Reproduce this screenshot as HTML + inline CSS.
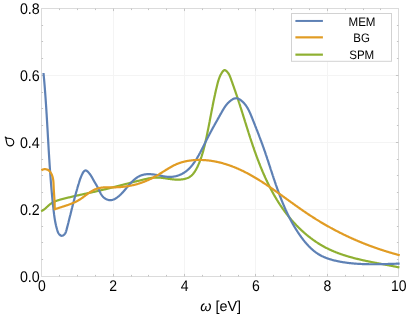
<!DOCTYPE html>
<html><head><meta charset="utf-8"><style>
html,body{margin:0;padding:0;background:#fff;}
svg{display:block;font-family:"Liberation Sans",sans-serif;}
svg{will-change:transform;}
</style></head><body>
<svg width="407" height="314" viewBox="0 0 407 314">
<rect width="407" height="314" fill="#fff"/>
<g stroke="#f4f4f4" stroke-width="1" fill="none"><line x1="113.50" y1="8.50" x2="113.50" y2="276.50"/><line x1="184.50" y1="8.50" x2="184.50" y2="276.50"/><line x1="255.50" y1="8.50" x2="255.50" y2="276.50"/><line x1="327.50" y1="8.50" x2="327.50" y2="276.50"/><line x1="41.50" y1="209.50" x2="398.50" y2="209.50"/><line x1="41.50" y1="142.50" x2="398.50" y2="142.50"/><line x1="41.50" y1="75.50" x2="398.50" y2="75.50"/></g>

<g stroke="#dbdbdb" stroke-width="1" fill="none">
<rect x="41.5" y="8.5" width="357.0" height="268.0"/>
</g>
<g stroke="#c4c4c4" stroke-width="1" fill="none"><line x1="59.50" y1="276.50" x2="59.50" y2="274.90"/><line x1="59.50" y1="8.50" x2="59.50" y2="10.10"/><line x1="77.50" y1="276.50" x2="77.50" y2="274.90"/><line x1="77.50" y1="8.50" x2="77.50" y2="10.10"/><line x1="95.50" y1="276.50" x2="95.50" y2="274.90"/><line x1="95.50" y1="8.50" x2="95.50" y2="10.10"/><line x1="113.50" y1="276.50" x2="113.50" y2="273.90"/><line x1="113.50" y1="8.50" x2="113.50" y2="11.10"/><line x1="131.50" y1="276.50" x2="131.50" y2="274.90"/><line x1="131.50" y1="8.50" x2="131.50" y2="10.10"/><line x1="148.50" y1="276.50" x2="148.50" y2="274.90"/><line x1="148.50" y1="8.50" x2="148.50" y2="10.10"/><line x1="166.50" y1="276.50" x2="166.50" y2="274.90"/><line x1="166.50" y1="8.50" x2="166.50" y2="10.10"/><line x1="184.50" y1="276.50" x2="184.50" y2="273.90"/><line x1="184.50" y1="8.50" x2="184.50" y2="11.10"/><line x1="202.50" y1="276.50" x2="202.50" y2="274.90"/><line x1="202.50" y1="8.50" x2="202.50" y2="10.10"/><line x1="220.50" y1="276.50" x2="220.50" y2="274.90"/><line x1="220.50" y1="8.50" x2="220.50" y2="10.10"/><line x1="238.50" y1="276.50" x2="238.50" y2="274.90"/><line x1="238.50" y1="8.50" x2="238.50" y2="10.10"/><line x1="255.50" y1="276.50" x2="255.50" y2="273.90"/><line x1="255.50" y1="8.50" x2="255.50" y2="11.10"/><line x1="273.50" y1="276.50" x2="273.50" y2="274.90"/><line x1="273.50" y1="8.50" x2="273.50" y2="10.10"/><line x1="291.50" y1="276.50" x2="291.50" y2="274.90"/><line x1="291.50" y1="8.50" x2="291.50" y2="10.10"/><line x1="309.50" y1="276.50" x2="309.50" y2="274.90"/><line x1="309.50" y1="8.50" x2="309.50" y2="10.10"/><line x1="327.50" y1="276.50" x2="327.50" y2="273.90"/><line x1="327.50" y1="8.50" x2="327.50" y2="11.10"/><line x1="345.50" y1="276.50" x2="345.50" y2="274.90"/><line x1="345.50" y1="8.50" x2="345.50" y2="10.10"/><line x1="363.50" y1="276.50" x2="363.50" y2="274.90"/><line x1="363.50" y1="8.50" x2="363.50" y2="10.10"/><line x1="380.50" y1="276.50" x2="380.50" y2="274.90"/><line x1="380.50" y1="8.50" x2="380.50" y2="10.10"/><line x1="41.50" y1="259.50" x2="43.10" y2="259.50"/><line x1="398.50" y1="259.50" x2="396.90" y2="259.50"/><line x1="41.50" y1="242.50" x2="43.10" y2="242.50"/><line x1="398.50" y1="242.50" x2="396.90" y2="242.50"/><line x1="41.50" y1="226.50" x2="43.10" y2="226.50"/><line x1="398.50" y1="226.50" x2="396.90" y2="226.50"/><line x1="41.50" y1="209.50" x2="44.10" y2="209.50"/><line x1="398.50" y1="209.50" x2="395.90" y2="209.50"/><line x1="41.50" y1="192.50" x2="43.10" y2="192.50"/><line x1="398.50" y1="192.50" x2="396.90" y2="192.50"/><line x1="41.50" y1="175.50" x2="43.10" y2="175.50"/><line x1="398.50" y1="175.50" x2="396.90" y2="175.50"/><line x1="41.50" y1="159.50" x2="43.10" y2="159.50"/><line x1="398.50" y1="159.50" x2="396.90" y2="159.50"/><line x1="41.50" y1="142.50" x2="44.10" y2="142.50"/><line x1="398.50" y1="142.50" x2="395.90" y2="142.50"/><line x1="41.50" y1="125.50" x2="43.10" y2="125.50"/><line x1="398.50" y1="125.50" x2="396.90" y2="125.50"/><line x1="41.50" y1="108.50" x2="43.10" y2="108.50"/><line x1="398.50" y1="108.50" x2="396.90" y2="108.50"/><line x1="41.50" y1="92.50" x2="43.10" y2="92.50"/><line x1="398.50" y1="92.50" x2="396.90" y2="92.50"/><line x1="41.50" y1="75.50" x2="44.10" y2="75.50"/><line x1="398.50" y1="75.50" x2="395.90" y2="75.50"/><line x1="41.50" y1="58.50" x2="43.10" y2="58.50"/><line x1="398.50" y1="58.50" x2="396.90" y2="58.50"/><line x1="41.50" y1="41.50" x2="43.10" y2="41.50"/><line x1="398.50" y1="41.50" x2="396.90" y2="41.50"/><line x1="41.50" y1="25.50" x2="43.10" y2="25.50"/><line x1="398.50" y1="25.50" x2="396.90" y2="25.50"/></g>
<g fill="none" stroke-width="2.2" stroke-linejoin="miter" stroke-linecap="butt">
<path stroke="#8fb032" d="M41.10,211.19 L41.56,211.00 L42.00,210.80 L42.44,210.57 L42.87,210.32 L43.29,210.06 L43.70,209.78 L44.10,209.48 L44.50,209.17 L44.89,208.85 L45.28,208.52 L45.66,208.18 L46.04,207.84 L46.42,207.49 L46.79,207.14 L47.17,206.79 L47.54,206.44 L47.92,206.09 L48.29,205.74 L48.68,205.40 L49.06,205.07 L49.45,204.74 L49.84,204.43 L50.24,204.12 L50.65,203.83 L51.06,203.55 L51.48,203.28 L51.90,203.02 L52.32,202.77 L52.75,202.53 L53.19,202.30 L53.63,202.08 L54.07,201.86 L54.52,201.66 L54.97,201.46 L55.43,201.27 L55.88,201.08 L56.34,200.90 L56.81,200.73 L57.28,200.56 L57.74,200.40 L58.22,200.25 L58.69,200.09 L59.17,199.95 L59.64,199.80 L60.12,199.66 L60.60,199.53 L61.09,199.39 L61.57,199.26 L62.05,199.13 L62.54,199.00 L63.02,198.88 L63.51,198.75 L63.99,198.63 L64.48,198.50 L64.96,198.38 L65.45,198.26 L65.93,198.14 L66.42,198.02 L66.90,197.90 L67.39,197.78 L67.88,197.66 L68.36,197.54 L68.85,197.43 L69.34,197.31 L69.82,197.20 L70.31,197.08 L70.80,196.97 L71.28,196.85 L71.77,196.74 L72.26,196.63 L72.75,196.51 L73.23,196.40 L73.72,196.29 L74.21,196.18 L74.70,196.07 L75.19,195.96 L75.67,195.85 L76.16,195.74 L76.65,195.63 L77.14,195.53 L77.63,195.42 L78.11,195.31 L78.60,195.20 L79.09,195.10 L79.58,194.99 L80.07,194.88 L80.56,194.78 L81.05,194.67 L81.53,194.56 L82.02,194.46 L82.51,194.35 L83.00,194.25 L83.49,194.14 L83.98,194.04 L84.47,193.93 L84.95,193.83 L85.44,193.72 L85.93,193.61 L86.42,193.51 L86.91,193.40 L87.40,193.30 L87.88,193.19 L88.37,193.09 L88.86,192.98 L89.35,192.88 L89.84,192.77 L90.33,192.66 L90.81,192.56 L91.30,192.45 L91.79,192.34 L92.28,192.24 L92.77,192.13 L93.25,192.02 L93.74,191.91 L94.23,191.81 L94.72,191.70 L95.20,191.59 L95.69,191.48 L96.18,191.37 L96.66,191.26 L97.15,191.15 L97.64,191.04 L98.12,190.93 L98.61,190.81 L99.10,190.70 L99.58,190.59 L100.07,190.47 L100.55,190.36 L101.04,190.25 L101.52,190.13 L102.01,190.02 L102.50,189.90 L102.98,189.78 L103.47,189.67 L103.95,189.55 L104.44,189.43 L104.92,189.32 L105.41,189.20 L105.89,189.08 L106.37,188.96 L106.86,188.84 L107.34,188.72 L107.83,188.60 L108.31,188.48 L108.80,188.36 L109.28,188.24 L109.76,188.12 L110.25,188.00 L110.73,187.88 L111.22,187.76 L111.70,187.63 L112.18,187.51 L112.67,187.39 L113.15,187.27 L113.63,187.14 L114.12,187.02 L114.60,186.90 L115.09,186.77 L115.57,186.65 L116.05,186.53 L116.54,186.40 L117.02,186.28 L117.50,186.15 L117.99,186.03 L118.47,185.91 L118.95,185.78 L119.44,185.66 L119.92,185.53 L120.40,185.41 L120.89,185.28 L121.37,185.16 L121.86,185.03 L122.34,184.91 L122.82,184.78 L123.31,184.66 L123.79,184.53 L124.27,184.41 L124.76,184.28 L125.24,184.16 L125.73,184.03 L126.21,183.91 L126.69,183.78 L127.18,183.66 L127.66,183.53 L128.15,183.41 L128.63,183.28 L129.12,183.16 L129.60,183.03 L130.08,182.91 L130.57,182.79 L131.05,182.66 L131.54,182.54 L132.02,182.41 L132.51,182.29 L132.99,182.17 L133.48,182.04 L133.97,181.92 L134.45,181.80 L134.94,181.67 L135.42,181.55 L135.91,181.43 L136.39,181.31 L136.88,181.19 L137.37,181.06 L137.85,180.94 L138.34,180.82 L138.83,180.70 L139.31,180.58 L139.80,180.46 L140.29,180.34 L140.78,180.22 L141.26,180.10 L141.75,179.98 L142.24,179.86 L142.73,179.75 L143.22,179.63 L143.70,179.51 L144.19,179.40 L144.68,179.28 L145.17,179.17 L145.66,179.06 L146.15,178.95 L146.64,178.84 L147.13,178.74 L147.62,178.64 L148.11,178.54 L148.60,178.44 L149.09,178.35 L149.58,178.26 L150.08,178.18 L150.57,178.10 L151.06,178.02 L151.55,177.95 L152.05,177.88 L152.54,177.82 L153.04,177.76 L153.53,177.71 L154.03,177.67 L154.52,177.63 L155.02,177.59 L155.51,177.57 L156.01,177.55 L156.51,177.53 L157.01,177.53 L157.51,177.53 L158.00,177.54 L158.50,177.55 L159.00,177.58 L159.50,177.61 L160.00,177.65 L160.51,177.69 L161.01,177.74 L161.51,177.79 L162.01,177.85 L162.51,177.91 L163.01,177.98 L163.50,178.04 L164.00,178.12 L164.50,178.19 L165.00,178.26 L165.49,178.34 L165.99,178.42 L166.48,178.49 L166.97,178.57 L167.46,178.65 L167.95,178.72 L168.44,178.80 L168.93,178.87 L169.42,178.94 L169.91,179.01 L170.39,179.08 L170.88,179.14 L171.37,179.20 L171.86,179.26 L172.35,179.32 L172.84,179.37 L173.33,179.42 L173.82,179.46 L174.32,179.50 L174.81,179.54 L175.31,179.57 L175.81,179.59 L176.31,179.61 L176.82,179.63 L177.32,179.64 L177.83,179.64 L178.35,179.63 L178.86,179.62 L179.38,179.61 L179.89,179.58 L180.41,179.55 L180.92,179.51 L181.44,179.46 L181.95,179.40 L182.46,179.33 L182.97,179.25 L183.47,179.17 L183.97,179.07 L184.47,178.96 L184.96,178.84 L185.45,178.72 L185.93,178.57 L186.41,178.42 L186.87,178.26 L187.34,178.08 L187.79,177.89 L188.23,177.69 L188.67,177.47 L189.10,177.24 L189.52,176.99 L189.92,176.73 L190.32,176.46 L190.70,176.17 L191.08,175.87 L191.45,175.56 L191.80,175.23 L192.15,174.89 L192.49,174.54 L192.82,174.18 L193.14,173.81 L193.45,173.43 L193.76,173.04 L194.06,172.65 L194.35,172.24 L194.63,171.83 L194.91,171.41 L195.18,170.98 L195.44,170.55 L195.70,170.11 L195.95,169.67 L196.20,169.22 L196.44,168.77 L196.68,168.32 L196.91,167.86 L197.14,167.40 L197.36,166.94 L197.59,166.48 L197.80,166.01 L198.02,165.55 L198.23,165.08 L198.43,164.62 L198.64,164.16 L198.84,163.69 L199.03,163.22 L199.23,162.76 L199.42,162.29 L199.61,161.82 L199.79,161.35 L199.98,160.88 L200.16,160.41 L200.33,159.94 L200.51,159.47 L200.68,159.00 L200.85,158.53 L201.01,158.06 L201.17,157.59 L201.34,157.11 L201.49,156.64 L201.65,156.17 L201.80,155.69 L201.96,155.22 L202.11,154.74 L202.25,154.27 L202.40,153.79 L202.54,153.31 L202.68,152.84 L202.82,152.36 L202.96,151.88 L203.09,151.40 L203.23,150.92 L203.36,150.45 L203.49,149.97 L203.62,149.49 L203.75,149.01 L203.87,148.53 L203.99,148.05 L204.12,147.56 L204.24,147.08 L204.36,146.60 L204.48,146.12 L204.59,145.64 L204.71,145.15 L204.82,144.67 L204.94,144.19 L205.05,143.70 L205.16,143.22 L205.27,142.74 L205.38,142.25 L205.49,141.77 L205.60,141.28 L205.71,140.80 L205.82,140.31 L205.92,139.83 L206.03,139.34 L206.14,138.85 L206.24,138.37 L206.35,137.88 L206.45,137.39 L206.55,136.91 L206.66,136.42 L206.76,135.93 L206.86,135.44 L206.96,134.96 L207.06,134.47 L207.16,133.98 L207.27,133.49 L207.37,133.00 L207.47,132.51 L207.56,132.03 L207.66,131.54 L207.76,131.05 L207.86,130.56 L207.96,130.07 L208.06,129.58 L208.15,129.09 L208.25,128.60 L208.35,128.11 L208.44,127.62 L208.54,127.13 L208.64,126.64 L208.73,126.15 L208.83,125.66 L208.92,125.17 L209.02,124.67 L209.11,124.18 L209.21,123.69 L209.30,123.20 L209.40,122.71 L209.49,122.22 L209.58,121.73 L209.68,121.24 L209.77,120.74 L209.87,120.25 L209.96,119.76 L210.05,119.27 L210.15,118.78 L210.24,118.29 L210.34,117.79 L210.43,117.30 L210.52,116.81 L210.62,116.32 L210.71,115.83 L210.80,115.34 L210.90,114.84 L210.99,114.35 L211.09,113.86 L211.18,113.37 L211.27,112.88 L211.37,112.38 L211.46,111.89 L211.56,111.40 L211.65,110.91 L211.75,110.42 L211.84,109.93 L211.94,109.43 L212.03,108.94 L212.13,108.45 L212.22,107.96 L212.32,107.47 L212.42,106.98 L212.51,106.48 L212.61,105.99 L212.71,105.50 L212.80,105.01 L212.90,104.52 L213.00,104.03 L213.10,103.54 L213.20,103.05 L213.29,102.56 L213.39,102.07 L213.49,101.58 L213.59,101.09 L213.69,100.60 L213.80,100.11 L213.90,99.62 L214.00,99.13 L214.10,98.64 L214.20,98.15 L214.31,97.66 L214.41,97.17 L214.51,96.68 L214.62,96.19 L214.72,95.70 L214.83,95.21 L214.94,94.73 L215.04,94.24 L215.15,93.75 L215.26,93.26 L215.37,92.77 L215.48,92.29 L215.59,91.80 L215.70,91.31 L215.81,90.83 L215.92,90.34 L216.03,89.85 L216.15,89.37 L216.26,88.88 L216.37,88.40 L216.49,87.91 L216.60,87.43 L216.72,86.94 L216.84,86.46 L216.96,85.97 L217.08,85.49 L217.20,85.01 L217.32,84.52 L217.44,84.04 L217.56,83.56 L217.69,83.07 L217.81,82.59 L217.94,82.11 L218.08,81.63 L218.22,81.15 L218.36,80.68 L218.50,80.20 L218.65,79.72 L218.81,79.25 L218.97,78.78 L219.14,78.30 L219.32,77.84 L219.50,77.37 L219.69,76.90 L219.89,76.44 L220.09,75.98 L220.31,75.52 L220.53,75.06 L220.77,74.60 L221.01,74.15 L221.26,73.70 L221.53,73.25 L221.81,72.81 L222.10,72.36 L222.40,71.93 L222.71,71.51 L223.04,71.12 L223.38,70.78 L223.73,70.50 L224.10,70.30 L224.48,70.19 L224.87,70.19 L225.27,70.29 L225.69,70.49 L226.10,70.77 L226.50,71.11 L226.90,71.49 L227.28,71.91 L227.64,72.34 L227.97,72.78 L228.28,73.22 L228.57,73.67 L228.84,74.11 L229.09,74.56 L229.33,75.02 L229.55,75.47 L229.76,75.93 L229.95,76.39 L230.14,76.85 L230.32,77.31 L230.49,77.77 L230.66,78.24 L230.83,78.70 L231.00,79.17 L231.16,79.63 L231.33,80.10 L231.50,80.57 L231.66,81.03 L231.83,81.50 L232.00,81.97 L232.16,82.44 L232.33,82.91 L232.50,83.38 L232.67,83.85 L232.83,84.32 L233.00,84.79 L233.17,85.26 L233.33,85.73 L233.50,86.20 L233.67,86.67 L233.84,87.15 L234.00,87.62 L234.17,88.09 L234.33,88.56 L234.50,89.04 L234.67,89.51 L234.83,89.98 L235.00,90.46 L235.16,90.93 L235.32,91.40 L235.49,91.88 L235.65,92.35 L235.82,92.83 L235.98,93.30 L236.14,93.78 L236.30,94.25 L236.46,94.72 L236.62,95.20 L236.78,95.67 L236.94,96.15 L237.10,96.62 L237.26,97.10 L237.42,97.57 L237.58,98.04 L237.74,98.52 L237.89,98.99 L238.05,99.47 L238.21,99.94 L238.36,100.42 L238.52,100.89 L238.67,101.37 L238.83,101.84 L238.98,102.32 L239.14,102.79 L239.29,103.27 L239.45,103.74 L239.60,104.22 L239.75,104.69 L239.91,105.17 L240.06,105.64 L240.21,106.12 L240.36,106.59 L240.51,107.07 L240.67,107.54 L240.82,108.02 L240.97,108.49 L241.12,108.97 L241.27,109.44 L241.42,109.92 L241.57,110.39 L241.72,110.87 L241.87,111.34 L242.02,111.82 L242.17,112.29 L242.32,112.77 L242.47,113.24 L242.62,113.72 L242.77,114.19 L242.92,114.67 L243.06,115.14 L243.21,115.62 L243.36,116.10 L243.51,116.57 L243.66,117.05 L243.81,117.52 L243.96,118.00 L244.10,118.47 L244.25,118.95 L244.40,119.42 L244.55,119.90 L244.70,120.37 L244.85,120.85 L244.99,121.33 L245.14,121.80 L245.29,122.28 L245.44,122.75 L245.59,123.23 L245.74,123.70 L245.89,124.18 L246.04,124.65 L246.18,125.13 L246.33,125.61 L246.48,126.08 L246.63,126.56 L246.78,127.03 L246.93,127.51 L247.08,127.98 L247.23,128.46 L247.38,128.94 L247.53,129.41 L247.68,129.89 L247.83,130.36 L247.98,130.84 L248.13,131.31 L248.28,131.79 L248.43,132.27 L248.59,132.74 L248.74,133.22 L248.89,133.69 L249.04,134.17 L249.20,134.64 L249.35,135.12 L249.50,135.60 L249.65,136.07 L249.81,136.55 L249.96,137.02 L250.12,137.50 L250.27,137.98 L250.43,138.45 L250.58,138.93 L250.74,139.40 L250.90,139.88 L251.05,140.35 L251.21,140.83 L251.37,141.31 L251.52,141.78 L251.68,142.26 L251.84,142.73 L252.00,143.21 L252.16,143.68 L252.32,144.16 L252.48,144.63 L252.64,145.11 L252.80,145.59 L252.96,146.06 L253.13,146.54 L253.29,147.01 L253.45,147.49 L253.62,147.96 L253.78,148.44 L253.94,148.91 L254.11,149.38 L254.27,149.86 L254.44,150.33 L254.61,150.81 L254.77,151.28 L254.94,151.76 L255.11,152.23 L255.28,152.70 L255.45,153.18 L255.62,153.65 L255.79,154.12 L255.96,154.59 L256.13,155.07 L256.30,155.54 L256.48,156.01 L256.65,156.48 L256.82,156.96 L257.00,157.43 L257.17,157.90 L257.35,158.37 L257.53,158.84 L257.70,159.31 L257.88,159.78 L258.06,160.25 L258.24,160.72 L258.42,161.19 L258.60,161.66 L258.78,162.13 L258.96,162.60 L259.14,163.07 L259.32,163.54 L259.51,164.00 L259.69,164.47 L259.88,164.94 L260.06,165.41 L260.25,165.87 L260.44,166.34 L260.63,166.80 L260.81,167.27 L261.00,167.74 L261.19,168.20 L261.38,168.66 L261.58,169.13 L261.77,169.59 L261.96,170.06 L262.16,170.52 L262.35,170.98 L262.55,171.44 L262.74,171.91 L262.94,172.37 L263.14,172.83 L263.34,173.29 L263.54,173.75 L263.74,174.21 L263.94,174.67 L264.14,175.13 L264.34,175.59 L264.55,176.04 L264.75,176.50 L264.96,176.96 L265.16,177.42 L265.37,177.87 L265.58,178.33 L265.79,178.78 L266.00,179.24 L266.21,179.69 L266.42,180.14 L266.63,180.60 L266.85,181.05 L267.06,181.50 L267.28,181.95 L267.49,182.40 L267.71,182.85 L267.93,183.30 L268.15,183.75 L268.37,184.20 L268.59,184.65 L268.81,185.10 L269.04,185.55 L269.26,185.99 L269.48,186.44 L269.71,186.88 L269.94,187.33 L270.17,187.77 L270.40,188.21 L270.63,188.66 L270.86,189.10 L271.09,189.54 L271.32,189.98 L271.56,190.42 L271.79,190.86 L272.03,191.30 L272.27,191.74 L272.51,192.18 L272.75,192.61 L272.99,193.05 L273.23,193.49 L273.47,193.92 L273.72,194.35 L273.96,194.79 L274.21,195.22 L274.45,195.65 L274.70,196.08 L274.95,196.51 L275.20,196.94 L275.46,197.37 L275.71,197.80 L275.96,198.23 L276.22,198.66 L276.48,199.08 L276.73,199.51 L276.99,199.93 L277.25,200.36 L277.52,200.78 L277.78,201.20 L278.04,201.62 L278.31,202.04 L278.57,202.46 L278.84,202.88 L279.11,203.30 L279.38,203.72 L279.65,204.13 L279.92,204.55 L280.20,204.96 L280.47,205.38 L280.75,205.79 L281.03,206.20 L281.31,206.61 L281.59,207.02 L281.87,207.43 L282.15,207.84 L282.44,208.25 L282.72,208.66 L283.01,209.06 L283.30,209.47 L283.59,209.87 L283.88,210.27 L284.17,210.68 L284.46,211.08 L284.76,211.48 L285.05,211.88 L285.35,212.28 L285.65,212.67 L285.95,213.07 L286.25,213.46 L286.56,213.86 L286.86,214.25 L287.17,214.65 L287.47,215.04 L287.78,215.43 L288.09,215.82 L288.40,216.21 L288.72,216.59 L289.03,216.98 L289.35,217.36 L289.67,217.75 L289.98,218.13 L290.30,218.51 L290.62,218.89 L290.95,219.27 L291.27,219.65 L291.60,220.03 L291.92,220.41 L292.25,220.78 L292.58,221.16 L292.91,221.53 L293.25,221.90 L293.58,222.27 L293.91,222.64 L294.25,223.01 L294.59,223.37 L294.93,223.74 L295.27,224.10 L295.61,224.47 L295.95,224.83 L296.30,225.19 L296.64,225.55 L296.99,225.90 L297.34,226.26 L297.69,226.61 L298.04,226.97 L298.39,227.32 L298.75,227.67 L299.10,228.02 L299.46,228.37 L299.82,228.71 L300.18,229.06 L300.54,229.40 L300.90,229.74 L301.26,230.09 L301.63,230.42 L301.99,230.76 L302.36,231.10 L302.73,231.43 L303.10,231.77 L303.47,232.10 L303.84,232.43 L304.21,232.76 L304.59,233.08 L304.97,233.41 L305.34,233.73 L305.72,234.06 L306.10,234.38 L306.48,234.70 L306.87,235.01 L307.25,235.33 L307.64,235.64 L308.02,235.96 L308.41,236.27 L308.80,236.58 L309.19,236.88 L309.58,237.19 L309.97,237.49 L310.37,237.80 L310.76,238.10 L311.16,238.39 L311.56,238.69 L311.96,238.99 L312.36,239.28 L312.76,239.57 L313.16,239.86 L313.57,240.15 L313.97,240.44 L314.38,240.72 L314.79,241.00 L315.20,241.28 L315.61,241.56 L316.02,241.84 L316.43,242.12 L316.85,242.39 L317.26,242.66 L317.68,242.93 L318.10,243.20 L318.52,243.46 L318.94,243.73 L319.36,243.99 L319.78,244.25 L320.21,244.50 L320.63,244.76 L321.06,245.01 L321.49,245.27 L321.92,245.51 L322.35,245.76 L322.78,246.01 L323.21,246.25 L323.65,246.49 L324.08,246.73 L324.52,246.97 L324.96,247.20 L325.39,247.44 L325.83,247.67 L326.28,247.90 L326.72,248.12 L327.16,248.35 L327.61,248.57 L328.05,248.79 L328.50,249.01 L328.95,249.22 L329.40,249.44 L329.85,249.65 L330.30,249.86 L330.75,250.06 L331.21,250.27 L331.66,250.47 L332.12,250.67 L332.57,250.87 L333.03,251.07 L333.49,251.26 L333.95,251.46 L334.41,251.65 L334.87,251.84 L335.34,252.03 L335.80,252.21 L336.27,252.40 L336.73,252.58 L337.20,252.76 L337.67,252.94 L338.14,253.11 L338.60,253.29 L339.08,253.46 L339.55,253.63 L340.02,253.80 L340.49,253.97 L340.96,254.14 L341.44,254.30 L341.91,254.46 L342.39,254.63 L342.87,254.79 L343.34,254.94 L343.82,255.10 L344.30,255.26 L344.78,255.41 L345.26,255.56 L345.74,255.71 L346.22,255.86 L346.70,256.01 L347.18,256.16 L347.67,256.30 L348.15,256.45 L348.64,256.59 L349.12,256.73 L349.61,256.87 L350.09,257.01 L350.58,257.15 L351.06,257.28 L351.55,257.42 L352.04,257.55 L352.53,257.68 L353.02,257.81 L353.51,257.94 L354.00,258.07 L354.49,258.20 L354.98,258.32 L355.47,258.45 L355.96,258.57 L356.45,258.70 L356.94,258.82 L357.43,258.94 L357.93,259.06 L358.42,259.18 L358.91,259.30 L359.40,259.41 L359.90,259.53 L360.39,259.64 L360.89,259.76 L361.38,259.87 L361.87,259.98 L362.37,260.09 L362.86,260.21 L363.36,260.32 L363.85,260.42 L364.35,260.53 L364.84,260.64 L365.34,260.75 L365.83,260.85 L366.33,260.96 L366.82,261.06 L367.32,261.17 L367.81,261.27 L368.31,261.37 L368.81,261.48 L369.30,261.58 L369.80,261.68 L370.29,261.78 L370.79,261.88 L371.28,261.98 L371.78,262.08 L372.27,262.18 L372.77,262.27 L373.26,262.37 L373.76,262.47 L374.25,262.56 L374.75,262.66 L375.24,262.76 L375.73,262.85 L376.23,262.95 L376.72,263.04 L377.21,263.14 L377.71,263.23 L378.20,263.33 L378.69,263.42 L379.18,263.51 L379.68,263.61 L380.17,263.70 L380.66,263.79 L381.15,263.89 L381.64,263.98 L382.13,264.07 L382.62,264.16 L383.11,264.26 L383.60,264.35 L384.09,264.44 L384.57,264.53 L385.06,264.62 L385.55,264.72 L386.03,264.81 L386.52,264.90 L387.01,264.99 L387.49,265.09 L387.97,265.18 L388.46,265.27 L388.94,265.36 L389.42,265.46 L389.91,265.55 L390.39,265.64 L390.87,265.74 L391.35,265.83 L391.83,265.93 L392.31,266.02 L392.78,266.11 L393.26,266.21 L393.74,266.31 L394.21,266.40 L394.69,266.50 L395.16,266.59 L395.64,266.69 L396.11,266.79 L396.58,266.89 L397.05,266.98 L397.52,267.08 L397.99,267.18 L398.46,267.28 L398.93,267.38 L399.40,267.48"/>
<path stroke="#5e81b5" d="M43.50,73.01 L43.55,73.51 L43.59,74.00 L43.64,74.50 L43.69,75.00 L43.73,75.49 L43.78,75.99 L43.82,76.48 L43.87,76.98 L43.91,77.47 L43.96,77.97 L44.00,78.47 L44.05,78.96 L44.09,79.46 L44.14,79.95 L44.18,80.45 L44.22,80.95 L44.26,81.44 L44.31,81.94 L44.35,82.44 L44.39,82.93 L44.43,83.43 L44.47,83.93 L44.52,84.42 L44.56,84.92 L44.60,85.42 L44.64,85.91 L44.68,86.41 L44.72,86.91 L44.76,87.40 L44.80,87.90 L44.84,88.40 L44.88,88.90 L44.91,89.39 L44.95,89.89 L44.99,90.39 L45.03,90.89 L45.07,91.38 L45.11,91.88 L45.14,92.38 L45.18,92.88 L45.22,93.37 L45.25,93.87 L45.29,94.37 L45.33,94.87 L45.36,95.37 L45.40,95.86 L45.44,96.36 L45.47,96.86 L45.51,97.36 L45.54,97.86 L45.58,98.35 L45.61,98.85 L45.65,99.35 L45.68,99.85 L45.72,100.35 L45.75,100.85 L45.79,101.35 L45.82,101.84 L45.85,102.34 L45.89,102.84 L45.92,103.34 L45.96,103.84 L45.99,104.34 L46.02,104.84 L46.05,105.34 L46.09,105.83 L46.12,106.33 L46.15,106.83 L46.19,107.33 L46.22,107.83 L46.25,108.33 L46.28,108.83 L46.31,109.33 L46.35,109.83 L46.38,110.33 L46.41,110.83 L46.44,111.33 L46.47,111.82 L46.50,112.32 L46.53,112.82 L46.56,113.32 L46.60,113.82 L46.63,114.32 L46.66,114.82 L46.69,115.32 L46.72,115.82 L46.75,116.32 L46.78,116.82 L46.81,117.32 L46.84,117.82 L46.87,118.32 L46.90,118.82 L46.93,119.32 L46.96,119.82 L46.99,120.32 L47.02,120.82 L47.05,121.32 L47.08,121.82 L47.11,122.32 L47.14,122.82 L47.17,123.32 L47.20,123.82 L47.22,124.32 L47.25,124.82 L47.28,125.32 L47.31,125.82 L47.34,126.32 L47.37,126.82 L47.40,127.32 L47.43,127.82 L47.46,128.32 L47.49,128.82 L47.52,129.32 L47.54,129.82 L47.57,130.32 L47.60,130.82 L47.63,131.32 L47.66,131.82 L47.69,132.32 L47.72,132.82 L47.75,133.32 L47.77,133.82 L47.80,134.32 L47.83,134.82 L47.86,135.32 L47.89,135.82 L47.92,136.32 L47.95,136.82 L47.97,137.32 L48.00,137.82 L48.03,138.32 L48.06,138.82 L48.09,139.32 L48.12,139.82 L48.15,140.32 L48.18,140.82 L48.21,141.32 L48.23,141.82 L48.26,142.32 L48.29,142.82 L48.32,143.32 L48.35,143.82 L48.38,144.32 L48.41,144.82 L48.44,145.32 L48.47,145.82 L48.50,146.32 L48.53,146.81 L48.56,147.31 L48.58,147.81 L48.61,148.31 L48.64,148.81 L48.67,149.31 L48.70,149.81 L48.73,150.31 L48.76,150.81 L48.79,151.31 L48.82,151.81 L48.85,152.31 L48.88,152.81 L48.91,153.31 L48.94,153.81 L48.98,154.31 L49.01,154.81 L49.04,155.31 L49.07,155.81 L49.10,156.31 L49.13,156.81 L49.16,157.31 L49.19,157.81 L49.22,158.31 L49.25,158.81 L49.29,159.31 L49.32,159.80 L49.35,160.30 L49.38,160.80 L49.41,161.30 L49.45,161.80 L49.48,162.30 L49.51,162.80 L49.54,163.30 L49.58,163.80 L49.61,164.30 L49.64,164.80 L49.67,165.29 L49.71,165.79 L49.74,166.29 L49.78,166.79 L49.81,167.29 L49.84,167.79 L49.88,168.29 L49.91,168.79 L49.95,169.28 L49.98,169.78 L50.01,170.28 L50.05,170.78 L50.08,171.28 L50.12,171.78 L50.16,172.27 L50.19,172.77 L50.23,173.27 L50.26,173.77 L50.30,174.27 L50.34,174.77 L50.37,175.26 L50.41,175.76 L50.45,176.26 L50.48,176.76 L50.52,177.25 L50.56,177.75 L50.60,178.25 L50.63,178.75 L50.67,179.25 L50.71,179.74 L50.75,180.24 L50.79,180.74 L50.83,181.24 L50.87,181.73 L50.91,182.23 L50.95,182.73 L50.99,183.22 L51.03,183.72 L51.07,184.22 L51.11,184.72 L51.15,185.21 L51.19,185.71 L51.23,186.21 L51.27,186.70 L51.31,187.20 L51.36,187.70 L51.40,188.19 L51.44,188.69 L51.49,189.18 L51.53,189.68 L51.57,190.18 L51.62,190.67 L51.66,191.17 L51.70,191.67 L51.75,192.16 L51.79,192.66 L51.84,193.15 L51.88,193.65 L51.93,194.14 L51.98,194.64 L52.02,195.14 L52.07,195.63 L52.12,196.13 L52.16,196.62 L52.21,197.12 L52.26,197.61 L52.31,198.11 L52.36,198.60 L52.40,199.10 L52.45,199.59 L52.50,200.09 L52.55,200.58 L52.60,201.08 L52.65,201.57 L52.70,202.06 L52.75,202.56 L52.81,203.05 L52.86,203.55 L52.91,204.04 L52.96,204.53 L53.02,205.03 L53.07,205.52 L53.12,206.02 L53.18,206.51 L53.23,207.00 L53.28,207.50 L53.34,207.99 L53.39,208.48 L53.45,208.98 L53.50,209.47 L53.56,209.96 L53.62,210.45 L53.67,210.95 L53.73,211.44 L53.79,211.93 L53.85,212.43 L53.91,212.92 L53.97,213.41 L54.03,213.90 L54.09,214.40 L54.16,214.89 L54.22,215.38 L54.29,215.87 L54.35,216.37 L54.42,216.86 L54.49,217.35 L54.57,217.85 L54.64,218.34 L54.72,218.83 L54.80,219.33 L54.88,219.82 L54.96,220.31 L55.05,220.81 L55.14,221.30 L55.23,221.80 L55.32,222.29 L55.42,222.79 L55.52,223.29 L55.62,223.78 L55.73,224.28 L55.84,224.78 L55.95,225.28 L56.07,225.77 L56.19,226.27 L56.31,226.77 L56.44,227.27 L56.57,227.77 L56.71,228.27 L56.85,228.77 L56.99,229.28 L57.14,229.78 L57.30,230.28 L57.46,230.78 L57.63,231.26 L57.82,231.75 L58.01,232.21 L58.23,232.67 L58.46,233.11 L58.70,233.53 L58.97,233.93 L59.26,234.30 L59.58,234.65 L59.92,234.97 L60.29,235.26 L60.68,235.51 L61.11,235.69 L61.55,235.78 L62.02,235.77 L62.50,235.66 L62.97,235.47 L63.41,235.23 L63.81,234.96 L64.18,234.65 L64.51,234.32 L64.81,233.95 L65.08,233.57 L65.32,233.16 L65.54,232.73 L65.74,232.28 L65.92,231.82 L66.08,231.35 L66.23,230.86 L66.37,230.37 L66.51,229.88 L66.64,229.38 L66.77,228.88 L66.90,228.39 L67.03,227.89 L67.16,227.39 L67.29,226.90 L67.42,226.40 L67.54,225.91 L67.67,225.41 L67.80,224.92 L67.92,224.43 L68.05,223.93 L68.17,223.44 L68.30,222.95 L68.42,222.45 L68.55,221.96 L68.67,221.47 L68.80,220.98 L68.92,220.49 L69.04,220.00 L69.17,219.51 L69.29,219.02 L69.41,218.53 L69.53,218.04 L69.66,217.55 L69.78,217.06 L69.90,216.58 L70.02,216.09 L70.14,215.60 L70.27,215.12 L70.39,214.63 L70.51,214.14 L70.63,213.66 L70.75,213.17 L70.87,212.69 L70.99,212.20 L71.11,211.72 L71.24,211.23 L71.36,210.75 L71.48,210.26 L71.60,209.78 L71.72,209.30 L71.84,208.81 L71.96,208.33 L72.09,207.85 L72.21,207.36 L72.33,206.88 L72.45,206.40 L72.57,205.92 L72.69,205.44 L72.82,204.96 L72.94,204.48 L73.06,204.00 L73.19,203.51 L73.31,203.03 L73.43,202.55 L73.56,202.07 L73.68,201.60 L73.80,201.12 L73.93,200.64 L74.05,200.16 L74.18,199.68 L74.30,199.20 L74.43,198.72 L74.56,198.24 L74.68,197.77 L74.81,197.29 L74.94,196.81 L75.07,196.33 L75.20,195.85 L75.32,195.38 L75.45,194.90 L75.58,194.42 L75.71,193.95 L75.84,193.47 L75.98,192.99 L76.11,192.52 L76.24,192.04 L76.37,191.56 L76.51,191.09 L76.64,190.61 L76.78,190.14 L76.91,189.66 L77.05,189.18 L77.19,188.71 L77.32,188.23 L77.46,187.76 L77.60,187.28 L77.74,186.81 L77.88,186.33 L78.02,185.86 L78.17,185.38 L78.31,184.91 L78.45,184.43 L78.60,183.96 L78.74,183.48 L78.89,183.01 L79.03,182.53 L79.18,182.06 L79.33,181.58 L79.48,181.11 L79.64,180.63 L79.79,180.16 L79.95,179.68 L80.12,179.20 L80.28,178.73 L80.46,178.25 L80.64,177.77 L80.82,177.29 L81.02,176.80 L81.22,176.32 L81.43,175.84 L81.64,175.35 L81.87,174.86 L82.11,174.37 L82.35,173.88 L82.61,173.38 L82.88,172.89 L83.15,172.42 L83.45,171.98 L83.75,171.57 L84.07,171.21 L84.40,170.90 L84.74,170.67 L85.10,170.52 L85.47,170.46 L85.86,170.49 L86.26,170.62 L86.66,170.82 L87.07,171.08 L87.48,171.41 L87.89,171.78 L88.30,172.20 L88.69,172.64 L89.08,173.09 L89.45,173.56 L89.80,174.02 L90.14,174.48 L90.45,174.93 L90.76,175.37 L91.04,175.81 L91.32,176.25 L91.58,176.68 L91.83,177.10 L92.08,177.53 L92.32,177.95 L92.55,178.37 L92.78,178.78 L93.01,179.20 L93.23,179.61 L93.46,180.03 L93.69,180.44 L93.92,180.86 L94.15,181.28 L94.39,181.70 L94.64,182.12 L94.89,182.54 L95.14,182.96 L95.39,183.39 L95.64,183.82 L95.90,184.25 L96.16,184.68 L96.41,185.12 L96.66,185.55 L96.91,185.99 L97.16,186.44 L97.41,186.88 L97.65,187.33 L97.89,187.78 L98.12,188.23 L98.34,188.69 L98.57,189.15 L98.79,189.61 L99.00,190.07 L99.22,190.53 L99.44,190.99 L99.65,191.45 L99.88,191.90 L100.10,192.35 L100.33,192.80 L100.57,193.24 L100.81,193.68 L101.06,194.11 L101.32,194.53 L101.59,194.95 L101.88,195.36 L102.17,195.75 L102.48,196.14 L102.80,196.52 L103.15,196.88 L103.50,197.23 L103.88,197.57 L104.27,197.90 L104.69,198.20 L105.12,198.50 L105.56,198.77 L106.02,199.02 L106.49,199.26 L106.97,199.47 L107.45,199.65 L107.94,199.81 L108.44,199.95 L108.94,200.05 L109.44,200.12 L109.95,200.17 L110.45,200.18 L110.94,200.15 L111.44,200.10 L111.93,200.01 L112.41,199.89 L112.89,199.75 L113.36,199.58 L113.83,199.39 L114.30,199.18 L114.75,198.95 L115.20,198.70 L115.65,198.44 L116.09,198.16 L116.51,197.88 L116.94,197.59 L117.35,197.29 L117.76,196.98 L118.16,196.67 L118.55,196.36 L118.93,196.04 L119.31,195.72 L119.68,195.39 L120.05,195.06 L120.41,194.72 L120.77,194.38 L121.12,194.04 L121.46,193.69 L121.80,193.34 L122.14,192.98 L122.48,192.63 L122.81,192.27 L123.14,191.90 L123.46,191.54 L123.79,191.17 L124.11,190.80 L124.43,190.43 L124.75,190.05 L125.06,189.68 L125.38,189.30 L125.70,188.92 L126.02,188.54 L126.33,188.16 L126.65,187.77 L126.97,187.39 L127.29,187.01 L127.61,186.62 L127.94,186.24 L128.27,185.85 L128.60,185.46 L128.93,185.08 L129.27,184.69 L129.60,184.31 L129.95,183.93 L130.29,183.55 L130.64,183.17 L131.00,182.79 L131.36,182.42 L131.72,182.05 L132.08,181.68 L132.45,181.32 L132.82,180.96 L133.20,180.61 L133.57,180.26 L133.96,179.92 L134.34,179.58 L134.73,179.25 L135.13,178.93 L135.53,178.62 L135.93,178.31 L136.33,178.01 L136.75,177.72 L137.16,177.45 L137.58,177.18 L138.00,176.92 L138.43,176.67 L138.86,176.43 L139.29,176.20 L139.73,175.99 L140.17,175.78 L140.62,175.59 L141.07,175.42 L141.53,175.25 L141.99,175.10 L142.45,174.96 L142.92,174.83 L143.39,174.72 L143.86,174.62 L144.34,174.53 L144.82,174.44 L145.30,174.37 L145.79,174.31 L146.28,174.26 L146.77,174.22 L147.26,174.19 L147.76,174.17 L148.25,174.16 L148.75,174.15 L149.25,174.16 L149.76,174.17 L150.26,174.19 L150.76,174.21 L151.27,174.25 L151.77,174.29 L152.28,174.33 L152.78,174.38 L153.29,174.44 L153.80,174.50 L154.30,174.57 L154.81,174.64 L155.32,174.72 L155.82,174.80 L156.32,174.88 L156.83,174.97 L157.33,175.06 L157.83,175.15 L158.33,175.25 L158.83,175.35 L159.32,175.44 L159.82,175.54 L160.31,175.64 L160.80,175.75 L161.30,175.84 L161.79,175.94 L162.28,176.04 L162.77,176.13 L163.26,176.22 L163.75,176.31 L164.24,176.40 L164.73,176.48 L165.22,176.55 L165.71,176.62 L166.20,176.68 L166.69,176.74 L167.18,176.79 L167.67,176.83 L168.16,176.87 L168.65,176.89 L169.14,176.91 L169.64,176.92 L170.13,176.91 L170.63,176.90 L171.12,176.87 L171.62,176.84 L172.12,176.80 L172.61,176.74 L173.11,176.68 L173.61,176.61 L174.10,176.52 L174.60,176.43 L175.09,176.33 L175.58,176.22 L176.08,176.10 L176.56,175.97 L177.05,175.83 L177.54,175.69 L178.02,175.53 L178.50,175.37 L178.97,175.19 L179.45,175.01 L179.92,174.82 L180.38,174.62 L180.84,174.42 L181.30,174.20 L181.76,173.98 L182.21,173.75 L182.65,173.51 L183.09,173.26 L183.52,173.01 L183.95,172.75 L184.38,172.48 L184.79,172.20 L185.20,171.92 L185.61,171.63 L186.01,171.33 L186.40,171.03 L186.79,170.72 L187.17,170.40 L187.55,170.08 L187.92,169.75 L188.29,169.42 L188.65,169.08 L189.01,168.73 L189.36,168.38 L189.71,168.03 L190.05,167.66 L190.39,167.30 L190.72,166.93 L191.05,166.55 L191.38,166.17 L191.70,165.79 L192.01,165.40 L192.33,165.01 L192.64,164.62 L192.94,164.22 L193.24,163.82 L193.54,163.41 L193.83,163.01 L194.12,162.60 L194.41,162.18 L194.70,161.77 L194.98,161.35 L195.26,160.93 L195.53,160.51 L195.80,160.09 L196.07,159.66 L196.34,159.24 L196.60,158.81 L196.87,158.38 L197.12,157.95 L197.38,157.52 L197.64,157.09 L197.89,156.66 L198.14,156.23 L198.39,155.79 L198.64,155.36 L198.88,154.92 L199.12,154.48 L199.36,154.04 L199.60,153.61 L199.84,153.17 L200.08,152.73 L200.31,152.28 L200.55,151.84 L200.78,151.40 L201.01,150.96 L201.24,150.51 L201.47,150.07 L201.70,149.63 L201.93,149.18 L202.15,148.74 L202.38,148.29 L202.60,147.85 L202.83,147.40 L203.05,146.95 L203.27,146.51 L203.50,146.06 L203.72,145.61 L203.94,145.17 L204.16,144.72 L204.39,144.27 L204.61,143.83 L204.83,143.38 L205.05,142.93 L205.27,142.49 L205.50,142.04 L205.72,141.59 L205.94,141.15 L206.17,140.70 L206.39,140.26 L206.62,139.81 L206.84,139.37 L207.07,138.92 L207.30,138.48 L207.52,138.03 L207.75,137.59 L207.98,137.15 L208.21,136.70 L208.44,136.26 L208.67,135.82 L208.90,135.38 L209.14,134.93 L209.37,134.49 L209.60,134.05 L209.83,133.61 L210.07,133.17 L210.30,132.73 L210.54,132.29 L210.77,131.85 L211.01,131.41 L211.25,130.97 L211.48,130.53 L211.72,130.09 L211.96,129.65 L212.20,129.21 L212.43,128.77 L212.67,128.33 L212.91,127.90 L213.15,127.46 L213.39,127.02 L213.63,126.58 L213.87,126.14 L214.12,125.71 L214.36,125.27 L214.60,124.83 L214.84,124.39 L215.08,123.96 L215.33,123.52 L215.57,123.08 L215.81,122.64 L216.05,122.21 L216.30,121.77 L216.54,121.33 L216.79,120.90 L217.03,120.46 L217.27,120.02 L217.52,119.59 L217.76,119.15 L218.01,118.71 L218.25,118.28 L218.50,117.84 L218.74,117.40 L218.99,116.97 L219.23,116.53 L219.48,116.09 L219.73,115.66 L219.97,115.22 L220.22,114.78 L220.46,114.34 L220.71,113.91 L220.95,113.47 L221.20,113.03 L221.45,112.60 L221.69,112.16 L221.94,111.72 L222.19,111.29 L222.44,110.85 L222.69,110.42 L222.94,109.99 L223.20,109.56 L223.46,109.13 L223.72,108.70 L223.98,108.28 L224.25,107.86 L224.52,107.44 L224.80,107.03 L225.08,106.62 L225.37,106.21 L225.66,105.81 L225.96,105.41 L226.26,105.02 L226.57,104.63 L226.89,104.25 L227.21,103.87 L227.54,103.50 L227.88,103.13 L228.23,102.77 L228.58,102.42 L228.95,102.08 L229.32,101.74 L229.70,101.40 L230.09,101.08 L230.49,100.76 L230.90,100.45 L231.33,100.15 L231.76,99.86 L232.20,99.58 L232.65,99.31 L233.11,99.07 L233.58,98.85 L234.05,98.65 L234.52,98.49 L235.00,98.37 L235.48,98.29 L235.96,98.25 L236.43,98.26 L236.90,98.32 L237.37,98.42 L237.84,98.56 L238.30,98.73 L238.76,98.94 L239.21,99.17 L239.65,99.43 L240.09,99.71 L240.52,100.00 L240.94,100.32 L241.35,100.64 L241.75,100.97 L242.14,101.31 L242.52,101.66 L242.89,102.01 L243.26,102.37 L243.61,102.73 L243.95,103.10 L244.29,103.48 L244.61,103.86 L244.93,104.24 L245.24,104.64 L245.54,105.03 L245.84,105.44 L246.13,105.84 L246.41,106.25 L246.68,106.67 L246.95,107.09 L247.21,107.51 L247.47,107.94 L247.72,108.37 L247.96,108.80 L248.20,109.24 L248.44,109.68 L248.66,110.12 L248.89,110.57 L249.11,111.02 L249.33,111.47 L249.54,111.92 L249.75,112.38 L249.96,112.84 L250.16,113.30 L250.36,113.76 L250.56,114.22 L250.76,114.68 L250.95,115.15 L251.14,115.61 L251.33,116.08 L251.52,116.54 L251.71,117.01 L251.90,117.48 L252.09,117.95 L252.27,118.41 L252.46,118.88 L252.65,119.35 L252.84,119.81 L253.02,120.28 L253.21,120.74 L253.39,121.21 L253.58,121.67 L253.77,122.14 L253.95,122.60 L254.14,123.07 L254.32,123.53 L254.51,124.00 L254.69,124.46 L254.88,124.93 L255.06,125.39 L255.24,125.86 L255.43,126.32 L255.61,126.79 L255.79,127.25 L255.98,127.71 L256.16,128.18 L256.34,128.64 L256.52,129.11 L256.71,129.57 L256.89,130.03 L257.07,130.50 L257.25,130.96 L257.43,131.42 L257.61,131.89 L257.79,132.35 L257.97,132.82 L258.15,133.28 L258.33,133.74 L258.51,134.21 L258.68,134.67 L258.86,135.14 L259.04,135.60 L259.22,136.06 L259.39,136.53 L259.57,136.99 L259.74,137.46 L259.92,137.92 L260.10,138.39 L260.27,138.85 L260.44,139.32 L260.62,139.78 L260.79,140.25 L260.97,140.71 L261.14,141.18 L261.31,141.65 L261.48,142.11 L261.65,142.58 L261.83,143.05 L262.00,143.51 L262.17,143.98 L262.34,144.45 L262.51,144.92 L262.67,145.38 L262.84,145.85 L263.01,146.32 L263.18,146.79 L263.34,147.26 L263.51,147.73 L263.68,148.20 L263.84,148.67 L264.01,149.14 L264.17,149.61 L264.34,150.08 L264.50,150.55 L264.66,151.02 L264.83,151.49 L264.99,151.96 L265.15,152.43 L265.31,152.91 L265.47,153.38 L265.63,153.85 L265.79,154.33 L265.96,154.80 L266.11,155.27 L266.27,155.75 L266.43,156.22 L266.59,156.69 L266.75,157.17 L266.91,157.64 L267.07,158.12 L267.23,158.59 L267.38,159.07 L267.54,159.54 L267.70,160.02 L267.86,160.49 L268.01,160.97 L268.17,161.44 L268.33,161.92 L268.48,162.39 L268.64,162.87 L268.80,163.35 L268.95,163.82 L269.11,164.30 L269.27,164.78 L269.42,165.25 L269.58,165.73 L269.73,166.20 L269.89,166.68 L270.05,167.16 L270.20,167.63 L270.36,168.11 L270.51,168.59 L270.67,169.06 L270.83,169.54 L270.98,170.02 L271.14,170.49 L271.29,170.97 L271.45,171.45 L271.61,171.93 L271.76,172.40 L271.92,172.88 L272.08,173.36 L272.23,173.83 L272.39,174.31 L272.55,174.78 L272.71,175.26 L272.86,175.74 L273.02,176.21 L273.18,176.69 L273.34,177.17 L273.50,177.64 L273.65,178.12 L273.81,178.59 L273.97,179.07 L274.13,179.55 L274.29,180.02 L274.45,180.50 L274.61,180.97 L274.77,181.45 L274.94,181.92 L275.10,182.40 L275.26,182.87 L275.42,183.35 L275.58,183.82 L275.75,184.29 L275.91,184.77 L276.08,185.24 L276.24,185.72 L276.41,186.19 L276.57,186.66 L276.74,187.14 L276.90,187.61 L277.07,188.08 L277.24,188.55 L277.41,189.02 L277.58,189.50 L277.74,189.97 L277.91,190.44 L278.08,190.91 L278.26,191.38 L278.43,191.85 L278.60,192.32 L278.77,192.79 L278.95,193.26 L279.12,193.73 L279.29,194.20 L279.47,194.67 L279.65,195.13 L279.82,195.60 L280.00,196.07 L280.18,196.54 L280.36,197.00 L280.54,197.47 L280.72,197.94 L280.90,198.40 L281.08,198.87 L281.26,199.33 L281.45,199.80 L281.63,200.26 L281.82,200.72 L282.00,201.19 L282.19,201.65 L282.38,202.11 L282.57,202.57 L282.76,203.04 L282.95,203.50 L283.14,203.96 L283.33,204.42 L283.53,204.88 L283.72,205.34 L283.91,205.80 L284.11,206.25 L284.31,206.71 L284.51,207.17 L284.71,207.63 L284.91,208.08 L285.11,208.54 L285.31,208.99 L285.51,209.45 L285.72,209.90 L285.92,210.35 L286.13,210.81 L286.34,211.26 L286.55,211.71 L286.76,212.16 L286.97,212.61 L287.18,213.06 L287.39,213.51 L287.61,213.96 L287.83,214.41 L288.04,214.86 L288.26,215.31 L288.48,215.75 L288.70,216.20 L288.92,216.64 L289.15,217.09 L289.37,217.53 L289.60,217.98 L289.82,218.42 L290.05,218.86 L290.28,219.30 L290.51,219.74 L290.75,220.18 L290.98,220.62 L291.22,221.06 L291.45,221.50 L291.69,221.94 L291.93,222.37 L292.17,222.81 L292.41,223.24 L292.66,223.68 L292.90,224.11 L293.15,224.54 L293.40,224.98 L293.65,225.41 L293.90,225.84 L294.15,226.27 L294.41,226.70 L294.66,227.12 L294.92,227.55 L295.18,227.98 L295.44,228.40 L295.70,228.83 L295.96,229.25 L296.23,229.68 L296.50,230.10 L296.76,230.52 L297.03,230.94 L297.31,231.36 L297.58,231.78 L297.85,232.20 L298.13,232.61 L298.41,233.03 L298.69,233.45 L298.97,233.86 L299.26,234.27 L299.54,234.69 L299.83,235.10 L300.12,235.51 L300.41,235.92 L300.70,236.33 L301.00,236.74 L301.29,237.15 L301.59,237.55 L301.89,237.96 L302.19,238.36 L302.50,238.76 L302.80,239.16 L303.11,239.56 L303.42,239.96 L303.73,240.36 L304.05,240.75 L304.36,241.15 L304.68,241.54 L305.00,241.93 L305.33,242.31 L305.65,242.70 L305.98,243.08 L306.31,243.46 L306.64,243.84 L306.97,244.22 L307.31,244.59 L307.65,244.96 L307.99,245.33 L308.33,245.70 L308.68,246.06 L309.03,246.42 L309.38,246.78 L309.73,247.13 L310.09,247.48 L310.44,247.83 L310.80,248.17 L311.17,248.51 L311.53,248.85 L311.90,249.19 L312.28,249.52 L312.65,249.84 L313.03,250.17 L313.41,250.48 L313.79,250.80 L314.18,251.11 L314.56,251.42 L314.96,251.72 L315.35,252.02 L315.75,252.31 L316.15,252.60 L316.55,252.89 L316.96,253.17 L317.37,253.44 L317.78,253.71 L318.19,253.98 L318.61,254.24 L319.04,254.50 L319.46,254.75 L319.89,255.00 L320.32,255.24 L320.75,255.47 L321.19,255.70 L321.63,255.93 L322.08,256.15 L322.52,256.37 L322.97,256.58 L323.42,256.79 L323.88,256.99 L324.33,257.19 L324.79,257.38 L325.25,257.57 L325.72,257.76 L326.18,257.94 L326.65,258.12 L327.12,258.29 L327.59,258.46 L328.06,258.62 L328.54,258.78 L329.02,258.94 L329.50,259.10 L329.98,259.25 L330.46,259.39 L330.94,259.54 L331.43,259.68 L331.91,259.81 L332.40,259.95 L332.89,260.08 L333.38,260.21 L333.87,260.33 L334.36,260.45 L334.85,260.57 L335.35,260.69 L335.84,260.80 L336.34,260.91 L336.83,261.02 L337.33,261.12 L337.82,261.23 L338.32,261.33 L338.82,261.42 L339.31,261.52 L339.81,261.62 L340.31,261.71 L340.80,261.80 L341.30,261.89 L341.80,261.97 L342.30,262.06 L342.79,262.14 L343.29,262.22 L343.79,262.30 L344.28,262.37 L344.78,262.45 L345.28,262.52 L345.77,262.59 L346.27,262.66 L346.77,262.73 L347.26,262.79 L347.76,262.86 L348.26,262.92 L348.75,262.98 L349.25,263.04 L349.75,263.10 L350.24,263.15 L350.74,263.21 L351.24,263.26 L351.74,263.31 L352.23,263.36 L352.73,263.41 L353.23,263.45 L353.72,263.50 L354.22,263.54 L354.72,263.58 L355.21,263.62 L355.71,263.66 L356.21,263.70 L356.70,263.73 L357.20,263.77 L357.70,263.80 L358.19,263.83 L358.69,263.86 L359.19,263.89 L359.69,263.92 L360.18,263.95 L360.68,263.97 L361.18,264.00 L361.67,264.02 L362.17,264.04 L362.67,264.06 L363.17,264.08 L363.66,264.10 L364.16,264.12 L364.66,264.13 L365.15,264.15 L365.65,264.16 L366.15,264.17 L366.65,264.19 L367.14,264.20 L367.64,264.21 L368.14,264.21 L368.64,264.22 L369.13,264.23 L369.63,264.24 L370.13,264.24 L370.63,264.24 L371.13,264.25 L371.62,264.25 L372.12,264.25 L372.62,264.25 L373.12,264.25 L373.62,264.25 L374.11,264.25 L374.61,264.25 L375.11,264.24 L375.61,264.24 L376.11,264.24 L376.61,264.23 L377.10,264.23 L377.60,264.22 L378.10,264.21 L378.60,264.20 L379.10,264.20 L379.60,264.19 L380.10,264.18 L380.60,264.17 L381.09,264.16 L381.59,264.15 L382.09,264.14 L382.59,264.12 L383.09,264.11 L383.59,264.10 L384.09,264.09 L384.59,264.07 L385.09,264.06 L385.59,264.05 L386.09,264.03 L386.59,264.02 L387.09,264.00 L387.59,263.99 L388.09,263.97 L388.59,263.96 L389.09,263.94 L389.59,263.93 L390.09,263.91 L390.59,263.89 L391.09,263.88 L391.59,263.86 L392.09,263.84 L392.59,263.83 L393.10,263.81 L393.60,263.79 L394.10,263.78 L394.60,263.76 L395.10,263.74 L395.60,263.73 L396.10,263.71 L396.61,263.69 L397.11,263.68 L397.61,263.66 L398.11,263.64 L398.61,263.63 L399.12,263.61 L399.62,263.60"/>
<path stroke="#e19c24" d="M41.43,170.34 L41.92,170.03 L42.41,169.77 L42.91,169.56 L43.41,169.40 L43.91,169.28 L44.41,169.20 L44.90,169.17 L45.40,169.18 L45.88,169.23 L46.36,169.32 L46.82,169.45 L47.27,169.61 L47.71,169.80 L48.13,170.03 L48.53,170.28 L48.91,170.57 L49.27,170.88 L49.62,171.21 L49.94,171.57 L50.25,171.95 L50.54,172.35 L50.82,172.76 L51.08,173.19 L51.32,173.64 L51.55,174.10 L51.76,174.56 L51.96,175.04 L52.14,175.52 L52.31,176.00 L52.46,176.49 L52.60,176.98 L52.73,177.47 L52.84,177.97 L52.94,178.46 L53.04,178.95 L53.12,179.45 L53.19,179.94 L53.26,180.44 L53.32,180.93 L53.37,181.43 L53.41,181.93 L53.45,182.42 L53.48,182.92 L53.51,183.42 L53.54,183.92 L53.56,184.42 L53.58,184.91 L53.60,185.41 L53.62,185.91 L53.64,186.41 L53.66,186.91 L53.68,187.40 L53.70,187.90 L53.73,188.40 L53.75,188.90 L53.78,189.39 L53.81,189.89 L53.84,190.39 L53.87,190.88 L53.90,191.38 L53.93,191.88 L53.96,192.37 L53.99,192.87 L54.03,193.37 L54.06,193.86 L54.09,194.36 L54.13,194.85 L54.16,195.35 L54.20,195.85 L54.23,196.34 L54.26,196.84 L54.29,197.33 L54.33,197.83 L54.36,198.33 L54.39,198.82 L54.42,199.32 L54.45,199.82 L54.48,200.31 L54.50,200.81 L54.53,201.31 L54.56,201.81 L54.58,202.30 L54.60,202.80 L54.62,203.30 L54.64,203.80 L54.66,204.30 L54.67,204.80 L54.68,205.30 L54.69,205.79 L54.70,206.29 L54.71,206.79 L54.71,207.29 L54.71,207.80 L54.71,208.30 L54.71,208.80 L54.70,209.30 L54.71,209.31 L55.17,209.14 L55.64,208.98 L56.11,208.82 L56.57,208.66 L57.04,208.50 L57.51,208.34 L57.99,208.19 L58.46,208.03 L58.93,207.88 L59.41,207.73 L59.89,207.57 L60.36,207.42 L60.84,207.27 L61.32,207.12 L61.79,206.96 L62.27,206.81 L62.75,206.66 L63.23,206.51 L63.71,206.35 L64.19,206.20 L64.66,206.04 L65.14,205.89 L65.62,205.73 L66.10,205.57 L66.58,205.41 L67.05,205.25 L67.53,205.09 L68.00,204.92 L68.48,204.76 L68.95,204.59 L69.42,204.42 L69.89,204.24 L70.36,204.06 L70.83,203.89 L71.30,203.70 L71.76,203.52 L72.23,203.33 L72.69,203.14 L73.15,202.94 L73.61,202.75 L74.06,202.54 L74.52,202.34 L74.97,202.13 L75.42,201.91 L75.87,201.69 L76.31,201.47 L76.76,201.24 L77.20,201.01 L77.63,200.77 L78.07,200.53 L78.50,200.29 L78.93,200.03 L79.36,199.77 L79.78,199.51 L80.20,199.24 L80.62,198.97 L81.03,198.69 L81.45,198.41 L81.86,198.12 L82.26,197.83 L82.67,197.54 L83.08,197.25 L83.48,196.95 L83.89,196.65 L84.29,196.36 L84.69,196.06 L85.09,195.75 L85.50,195.45 L85.90,195.15 L86.30,194.85 L86.71,194.55 L87.11,194.25 L87.51,193.96 L87.92,193.66 L88.33,193.37 L88.74,193.08 L89.15,192.80 L89.56,192.52 L89.98,192.24 L90.40,191.97 L90.82,191.70 L91.24,191.43 L91.67,191.18 L92.10,190.92 L92.53,190.68 L92.97,190.44 L93.41,190.21 L93.85,189.98 L94.30,189.77 L94.75,189.56 L95.20,189.36 L95.66,189.17 L96.11,188.99 L96.57,188.82 L97.04,188.66 L97.51,188.51 L97.98,188.37 L98.45,188.24 L98.93,188.12 L99.41,188.01 L99.89,187.91 L100.37,187.83 L100.86,187.75 L101.35,187.68 L101.84,187.62 L102.33,187.56 L102.83,187.51 L103.32,187.47 L103.82,187.44 L104.32,187.41 L104.82,187.38 L105.33,187.37 L105.83,187.35 L106.34,187.34 L106.84,187.33 L107.35,187.33 L107.86,187.33 L108.37,187.33 L108.87,187.33 L109.38,187.33 L109.89,187.34 L110.40,187.34 L110.91,187.34 L111.42,187.35 L111.93,187.35 L112.44,187.35 L112.95,187.35 L113.46,187.34 L113.97,187.34 L114.47,187.33 L114.98,187.32 L115.49,187.30 L115.99,187.29 L116.50,187.27 L117.00,187.25 L117.50,187.22 L118.01,187.20 L118.51,187.17 L119.01,187.14 L119.51,187.10 L120.02,187.07 L120.52,187.03 L121.02,186.99 L121.52,186.94 L122.01,186.90 L122.51,186.85 L123.01,186.80 L123.51,186.74 L124.00,186.69 L124.50,186.63 L124.99,186.56 L125.49,186.50 L125.98,186.43 L126.48,186.36 L126.97,186.29 L127.46,186.21 L127.95,186.13 L128.44,186.05 L128.93,185.97 L129.42,185.88 L129.91,185.79 L130.40,185.70 L130.89,185.60 L131.37,185.50 L131.86,185.40 L132.34,185.29 L132.83,185.19 L133.31,185.07 L133.79,184.96 L134.28,184.84 L134.76,184.72 L135.24,184.60 L135.72,184.47 L136.20,184.35 L136.68,184.21 L137.16,184.08 L137.63,183.94 L138.11,183.80 L138.58,183.65 L139.06,183.51 L139.53,183.36 L140.01,183.20 L140.48,183.05 L140.95,182.89 L141.42,182.72 L141.89,182.56 L142.36,182.39 L142.83,182.22 L143.30,182.04 L143.76,181.87 L144.23,181.69 L144.69,181.51 L145.16,181.32 L145.62,181.13 L146.08,180.94 L146.54,180.75 L147.00,180.55 L147.46,180.36 L147.92,180.15 L148.38,179.95 L148.83,179.74 L149.29,179.53 L149.74,179.32 L150.19,179.11 L150.65,178.89 L151.10,178.67 L151.55,178.45 L152.00,178.23 L152.44,178.00 L152.89,177.77 L153.34,177.54 L153.78,177.31 L154.22,177.07 L154.67,176.83 L155.11,176.59 L155.55,176.35 L155.99,176.10 L156.42,175.85 L156.86,175.60 L157.30,175.35 L157.73,175.10 L158.16,174.84 L158.60,174.58 L159.03,174.32 L159.46,174.06 L159.89,173.79 L160.31,173.53 L160.74,173.26 L161.17,172.99 L161.59,172.73 L162.02,172.46 L162.44,172.19 L162.87,171.92 L163.29,171.65 L163.72,171.37 L164.14,171.10 L164.57,170.83 L164.99,170.56 L165.42,170.29 L165.84,170.03 L166.26,169.76 L166.69,169.49 L167.12,169.23 L167.54,168.96 L167.97,168.70 L168.40,168.44 L168.82,168.19 L169.25,167.93 L169.68,167.68 L170.11,167.43 L170.55,167.18 L170.98,166.93 L171.41,166.69 L171.85,166.45 L172.29,166.21 L172.72,165.98 L173.16,165.75 L173.61,165.53 L174.05,165.31 L174.49,165.09 L174.94,164.88 L175.39,164.67 L175.84,164.47 L176.30,164.27 L176.75,164.08 L177.21,163.89 L177.67,163.71 L178.13,163.53 L178.59,163.36 L179.06,163.19 L179.52,163.03 L179.99,162.87 L180.46,162.71 L180.93,162.56 L181.41,162.42 L181.88,162.28 L182.36,162.14 L182.84,162.01 L183.32,161.88 L183.80,161.76 L184.28,161.64 L184.77,161.52 L185.25,161.41 L185.74,161.31 L186.23,161.20 L186.71,161.11 L187.21,161.01 L187.70,160.92 L188.19,160.84 L188.68,160.76 L189.18,160.68 L189.67,160.61 L190.17,160.54 L190.66,160.48 L191.16,160.41 L191.66,160.36 L192.16,160.30 L192.66,160.26 L193.16,160.21 L193.66,160.17 L194.16,160.13 L194.66,160.10 L195.17,160.07 L195.67,160.04 L196.17,160.02 L196.68,160.00 L197.18,159.98 L197.69,159.97 L198.19,159.96 L198.69,159.95 L199.20,159.95 L199.70,159.95 L200.21,159.96 L200.71,159.96 L201.22,159.98 L201.72,159.99 L202.23,160.01 L202.73,160.03 L203.24,160.05 L203.74,160.08 L204.24,160.11 L204.75,160.14 L205.25,160.18 L205.75,160.22 L206.26,160.26 L206.76,160.31 L207.26,160.36 L207.76,160.41 L208.26,160.46 L208.76,160.52 L209.26,160.58 L209.75,160.64 L210.25,160.71 L210.75,160.78 L211.24,160.85 L211.74,160.92 L212.23,161.00 L212.72,161.08 L213.21,161.16 L213.70,161.24 L214.19,161.33 L214.68,161.42 L215.17,161.51 L215.66,161.60 L216.14,161.70 L216.63,161.80 L217.11,161.90 L217.59,162.00 L218.08,162.11 L218.56,162.22 L219.04,162.33 L219.52,162.44 L220.00,162.56 L220.48,162.68 L220.96,162.80 L221.43,162.92 L221.91,163.05 L222.38,163.18 L222.86,163.31 L223.33,163.44 L223.80,163.58 L224.28,163.71 L224.75,163.85 L225.22,163.99 L225.69,164.14 L226.16,164.28 L226.62,164.43 L227.09,164.58 L227.56,164.73 L228.02,164.89 L228.49,165.04 L228.95,165.20 L229.42,165.36 L229.88,165.53 L230.34,165.69 L230.80,165.86 L231.27,166.03 L231.73,166.20 L232.19,166.37 L232.64,166.55 L233.10,166.72 L233.56,166.90 L234.02,167.08 L234.47,167.26 L234.93,167.45 L235.38,167.64 L235.84,167.82 L236.29,168.01 L236.74,168.21 L237.19,168.40 L237.65,168.59 L238.10,168.79 L238.55,168.99 L239.00,169.19 L239.45,169.39 L239.89,169.60 L240.34,169.80 L240.79,170.01 L241.24,170.22 L241.68,170.43 L242.13,170.65 L242.57,170.86 L243.02,171.08 L243.46,171.29 L243.90,171.51 L244.35,171.73 L244.79,171.95 L245.23,172.18 L245.67,172.40 L246.11,172.63 L246.55,172.86 L246.99,173.09 L247.43,173.32 L247.87,173.55 L248.30,173.79 L248.74,174.02 L249.18,174.26 L249.61,174.50 L250.05,174.74 L250.49,174.98 L250.92,175.22 L251.35,175.46 L251.79,175.71 L252.22,175.95 L252.65,176.20 L253.09,176.45 L253.52,176.70 L253.95,176.95 L254.38,177.20 L254.81,177.46 L255.24,177.71 L255.67,177.97 L256.10,178.22 L256.53,178.48 L256.96,178.74 L257.39,179.00 L257.82,179.26 L258.24,179.53 L258.67,179.79 L259.10,180.05 L259.52,180.32 L259.95,180.59 L260.38,180.85 L260.80,181.12 L261.23,181.39 L261.65,181.66 L262.07,181.93 L262.50,182.21 L262.92,182.48 L263.34,182.75 L263.77,183.03 L264.19,183.31 L264.61,183.58 L265.03,183.86 L265.46,184.14 L265.88,184.42 L266.30,184.70 L266.72,184.98 L267.14,185.26 L267.56,185.54 L267.98,185.82 L268.40,186.11 L268.82,186.39 L269.24,186.68 L269.66,186.96 L270.08,187.25 L270.49,187.54 L270.91,187.82 L271.33,188.11 L271.75,188.40 L272.17,188.69 L272.58,188.98 L273.00,189.27 L273.42,189.56 L273.83,189.85 L274.25,190.14 L274.67,190.43 L275.08,190.73 L275.50,191.02 L275.91,191.31 L276.33,191.61 L276.74,191.90 L277.16,192.19 L277.58,192.49 L277.99,192.79 L278.41,193.08 L278.82,193.38 L279.23,193.67 L279.65,193.97 L280.06,194.27 L280.48,194.56 L280.89,194.86 L281.31,195.16 L281.72,195.46 L282.13,195.75 L282.55,196.05 L282.96,196.35 L283.37,196.65 L283.79,196.95 L284.20,197.24 L284.61,197.54 L285.03,197.84 L285.44,198.14 L285.85,198.44 L286.27,198.74 L286.68,199.04 L287.09,199.33 L287.51,199.63 L287.92,199.93 L288.33,200.23 L288.75,200.53 L289.16,200.83 L289.57,201.13 L289.99,201.43 L290.40,201.72 L290.81,202.02 L291.22,202.32 L291.64,202.62 L292.05,202.91 L292.46,203.21 L292.88,203.51 L293.29,203.81 L293.70,204.10 L294.12,204.40 L294.53,204.69 L294.94,204.99 L295.36,205.29 L295.77,205.58 L296.19,205.88 L296.60,206.17 L297.01,206.46 L297.43,206.76 L297.84,207.05 L298.26,207.34 L298.67,207.64 L299.08,207.93 L299.50,208.22 L299.91,208.51 L300.33,208.80 L300.74,209.09 L301.16,209.38 L301.57,209.67 L301.99,209.96 L302.40,210.25 L302.82,210.53 L303.24,210.82 L303.65,211.11 L304.07,211.39 L304.49,211.68 L304.90,211.96 L305.32,212.24 L305.74,212.53 L306.15,212.81 L306.57,213.09 L306.99,213.37 L307.41,213.65 L307.83,213.93 L308.24,214.21 L308.66,214.48 L309.08,214.76 L309.50,215.04 L309.92,215.31 L310.34,215.58 L310.76,215.86 L311.18,216.13 L311.60,216.40 L312.02,216.67 L312.44,216.94 L312.86,217.21 L313.28,217.48 L313.70,217.75 L314.13,218.02 L314.55,218.29 L314.97,218.55 L315.39,218.82 L315.82,219.08 L316.24,219.34 L316.66,219.61 L317.09,219.87 L317.51,220.13 L317.93,220.39 L318.36,220.65 L318.78,220.91 L319.21,221.17 L319.63,221.43 L320.06,221.68 L320.48,221.94 L320.91,222.19 L321.34,222.45 L321.76,222.70 L322.19,222.96 L322.62,223.21 L323.05,223.46 L323.47,223.71 L323.90,223.96 L324.33,224.21 L324.76,224.46 L325.19,224.71 L325.62,224.95 L326.05,225.20 L326.48,225.45 L326.91,225.69 L327.34,225.93 L327.77,226.18 L328.20,226.42 L328.63,226.66 L329.06,226.90 L329.49,227.14 L329.92,227.38 L330.36,227.62 L330.79,227.86 L331.22,228.10 L331.66,228.33 L332.09,228.57 L332.52,228.81 L332.96,229.04 L333.39,229.27 L333.83,229.51 L334.26,229.74 L334.70,229.97 L335.14,230.20 L335.57,230.43 L336.01,230.66 L336.45,230.89 L336.88,231.12 L337.32,231.34 L337.76,231.57 L338.20,231.79 L338.64,232.02 L339.08,232.24 L339.52,232.47 L339.96,232.69 L340.40,232.91 L340.84,233.13 L341.28,233.35 L341.72,233.57 L342.16,233.79 L342.60,234.01 L343.05,234.23 L343.49,234.44 L343.93,234.66 L344.38,234.88 L344.82,235.09 L345.26,235.30 L345.71,235.52 L346.15,235.73 L346.60,235.94 L347.04,236.15 L347.49,236.36 L347.94,236.57 L348.38,236.78 L348.83,236.99 L349.28,237.19 L349.73,237.40 L350.17,237.61 L350.62,237.81 L351.07,238.02 L351.52,238.22 L351.97,238.42 L352.42,238.62 L352.87,238.83 L353.32,239.03 L353.78,239.23 L354.23,239.43 L354.68,239.62 L355.13,239.82 L355.59,240.02 L356.04,240.22 L356.49,240.41 L356.95,240.61 L357.40,240.80 L357.86,240.99 L358.31,241.19 L358.77,241.38 L359.23,241.57 L359.68,241.76 L360.14,241.95 L360.60,242.14 L361.06,242.33 L361.52,242.52 L361.97,242.70 L362.43,242.89 L362.89,243.07 L363.35,243.26 L363.82,243.44 L364.28,243.63 L364.74,243.81 L365.20,243.99 L365.66,244.17 L366.13,244.35 L366.59,244.53 L367.05,244.71 L367.52,244.89 L367.98,245.07 L368.45,245.25 L368.91,245.42 L369.38,245.60 L369.85,245.77 L370.31,245.95 L370.78,246.12 L371.25,246.29 L371.72,246.46 L372.19,246.64 L372.66,246.81 L373.13,246.98 L373.60,247.15 L374.07,247.31 L374.54,247.48 L375.01,247.65 L375.48,247.82 L375.96,247.98 L376.43,248.15 L376.90,248.31 L377.38,248.47 L377.85,248.64 L378.33,248.80 L378.80,248.96 L379.28,249.12 L379.76,249.28 L380.23,249.44 L380.71,249.60 L381.19,249.76 L381.67,249.91 L382.15,250.07 L382.63,250.23 L383.11,250.38 L383.59,250.54 L384.07,250.69 L384.55,250.84 L385.03,251.00 L385.52,251.15 L386.00,251.30 L386.48,251.45 L386.97,251.60 L387.45,251.75 L387.94,251.89 L388.42,252.04 L388.91,252.19 L389.40,252.34 L389.88,252.48 L390.37,252.63 L390.86,252.77 L391.35,252.91 L391.84,253.06 L392.33,253.20 L392.82,253.34 L393.31,253.48 L393.80,253.62 L394.29,253.76 L394.79,253.90 L395.28,254.03 L395.77,254.17 L396.27,254.31 L396.76,254.44 L397.26,254.58 L397.76,254.71 L398.25,254.85 L398.75,254.98 L399.25,255.11 L399.75,255.24"/>
</g>
<g font-size="14px" fill="#000" style="text-rendering:geometricPrecision"><text transform="translate(41.80,291.0) scale(1.0,1.1)" text-anchor="middle">0</text><text transform="translate(113.20,291.0) scale(1.0,1.1)" text-anchor="middle">2</text><text transform="translate(184.60,291.0) scale(1.0,1.1)" text-anchor="middle">4</text><text transform="translate(256.00,291.0) scale(1.0,1.1)" text-anchor="middle">6</text><text transform="translate(327.40,291.0) scale(1.0,1.1)" text-anchor="middle">8</text><text transform="translate(398.80,291.0) scale(1.0,1.1)" text-anchor="middle">10</text><text transform="translate(39.75,281.85) scale(1.02,1.1)" text-anchor="end">0.0</text><text transform="translate(39.75,214.85) scale(1.02,1.1)" text-anchor="end">0.2</text><text transform="translate(39.75,147.85) scale(1.02,1.1)" text-anchor="end">0.4</text><text transform="translate(39.75,80.85) scale(1.02,1.1)" text-anchor="end">0.6</text><text transform="translate(39.75,13.85) scale(1.02,1.1)" text-anchor="end">0.8</text></g>
<text font-size="14.4px" x="220.6" y="310.5" text-anchor="middle" style="text-rendering:geometricPrecision"><tspan font-style="italic">ω</tspan> [eV]</text>
<path fill="none" stroke="#000" stroke-width="1.1" stroke-linecap="round" stroke-linejoin="round" d="M5.2,137.0 L7.0,138.3 C9,138.2 11,138.3 12.4,139.4 C14.2,140.8 14.2,143.6 12.6,145.0 C11,146.3 8.6,146.2 7.4,144.6 C6.4,143.2 6.3,140.4 5.7,137.5"/>
<g>
<rect x="291.5" y="13.5" width="100" height="47.8" fill="#fff" stroke="#d2d2d2" stroke-width="1"/>
<g stroke-width="2.2" fill="none">
<line x1="295.4" y1="20.95" x2="322.9" y2="20.95" stroke="#5e81b5" stroke-width="2.0"/>
<line x1="295.4" y1="37.35" x2="322.9" y2="37.35" stroke="#e19c24" stroke-width="2.2"/>
<line x1="295.4" y1="54.65" x2="322.9" y2="54.65" stroke="#8fb032" stroke-width="2.2"/>
</g>
<g font-size="11.7px" text-anchor="middle" fill="#000" style="text-rendering:geometricPrecision">
<text transform="translate(362,25.6) scale(0.99,1.05)">MEM</text>
<text transform="translate(361.6,41.6) scale(0.98,1.05)">BG</text>
<text transform="translate(361.7,59.0) scale(0.99,1.05)">SPM</text>
</g></g>
</svg>
</body></html>
